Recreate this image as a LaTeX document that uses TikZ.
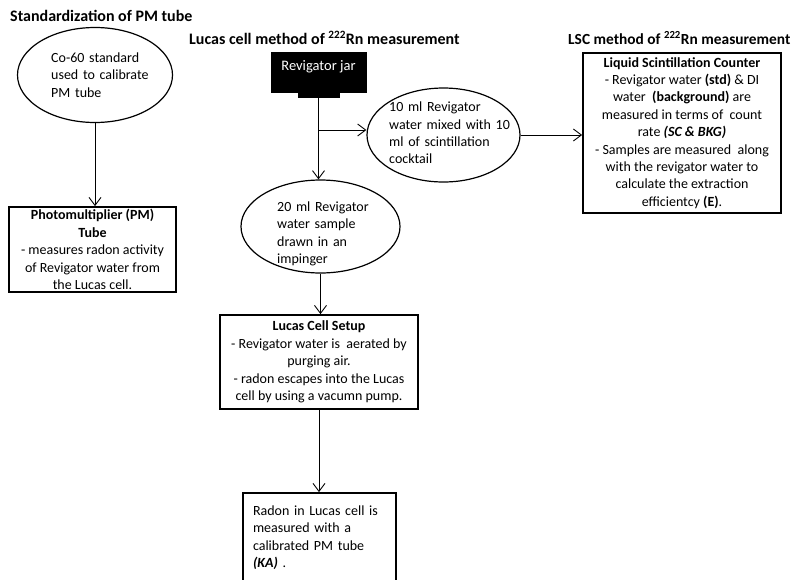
\documentclass[tikz,border=0pt]{standalone}
\usepackage{fontspec}
\setmainfont{Carlito}
\usetikzlibrary{shapes.geometric,arrows.meta}
\begin{document}
\begin{tikzpicture}[x=1pt,y=-1pt,
  every node/.style={font=\fontsize{14}{17.4}\selectfont},
  boxnode/.style={draw, line width=1.8pt, rectangle, inner sep=0pt, align=center},
  ovalnode/.style={draw, line width=1.2pt, ellipse, inner sep=0pt},
  arr/.style={line width=0.9pt, -{Straight Barb[length=8pt,width=12pt]}},
  ttl/.style={font=\fontsize{16}{18}\selectfont\bfseries, anchor=west, inner sep=0pt},
  ovaltext/.style={inner sep=0pt, align=left, anchor=west},
]
\useasboundingbox (0,0) rectangle (798,579);

% titles
\node[ttl] (t1) at (10,16) {Standardization of PM tube};
\node[ttl] (t2) at (189,38) {Lucas cell method of \textsuperscript{222}Rn measurement};
\node[ttl, font=\fontsize{15.4}{18}\selectfont\bfseries] (t3) at (568,38) {LSC method of \textsuperscript{222}Rn measurement};

% left column
\node[ovalnode, minimum width=155pt, minimum height=95pt] (co) at (95,75) {};
\node[ovaltext, text width=120pt] (cot) at (51,75) {Co-60 standard\\used to calibrate\\PM tube};
\node[boxnode, minimum width=167pt, minimum height=85pt] (pm) at (92.5,249.5)
  {\textbf{Photomultiplier (PM)}\\\textbf{Tube}\\- measures radon activity\\of Revigator water from\\the Lucas cell.};

% jar
\node[fill=black, draw=black, minimum width=95pt, minimum height=40pt, inner sep=0pt] (jar) at (318.5,72) {};
\node[fill=black, draw=black, minimum width=41pt, minimum height=6pt, inner sep=0pt, anchor=north] (tab) at (318.5,91) {};
\node[text=white, inner sep=0pt, font=\fontsize{14.5}{17}\selectfont] (jart) at (318.5,67) {Revigator jar};

% middle ellipses
\node[ovalnode, minimum width=153pt, minimum height=94pt] (ten) at (443.5,135) {};
\node[ovaltext, text width=140pt] (tent) at (389,133) {10 ml Revigator\\water mixed with 10\\ml of scintillation\\cocktail};
\node[ovalnode, minimum width=159pt, minimum height=93pt] (twenty) at (320.5,226.5) {};
\node[ovaltext, text width=130pt] (twentyt) at (277,234) {20 ml Revigator\\water sample\\drawn in an\\impinger};

% LSC box
\node[boxnode, minimum width=198pt, minimum height=160pt] (lsc) at (682,133)
  {\textbf{Liquid Scintillation Counter}\\- Revigator water \textbf{(std)} \& DI\\water \ \textbf{(background)} are\\measured in terms of \ count\\rate \textbf{\itshape (SC \& BKG)}\\- Samples are measured \ along\\with the revigator water to\\calculate the extraction\\efficientcy \textbf{(E)}.};

% Lucas box
\node[boxnode, minimum width=198pt, minimum height=94pt] (lucas) at (319,362)
  {\textbf{Lucas Cell Setup}\\- Revigator water is \ aerated by\\purging air.\\- radon escapes into the Lucas\\cell by using a vacumn pump.};

% final box
\node[boxnode, minimum width=153pt, minimum height=89pt, text width=133pt, align=left] (final) at (319.5,537.5)
  {Radon in Lucas cell is\\measured with a\\calibrated PM tube\\\textbf{\itshape (KA)} .};

% connectors
\coordinate (branch) at (318,130);
\draw[arr] (co.south) -- (co.south |- pm.north);
\draw[arr] (tab.south) -- (tab.south |- twenty.north);
\draw[arr] (branch) -- (branch -| ten.west);
\draw[arr] (ten.east) -- (ten.east -| lsc.west);
\draw[arr] (twenty.south) -- (twenty.south |- lucas.north);
\draw[arr] (lucas.south) -- (lucas.south |- final.north);
\end{tikzpicture}
\end{document}
